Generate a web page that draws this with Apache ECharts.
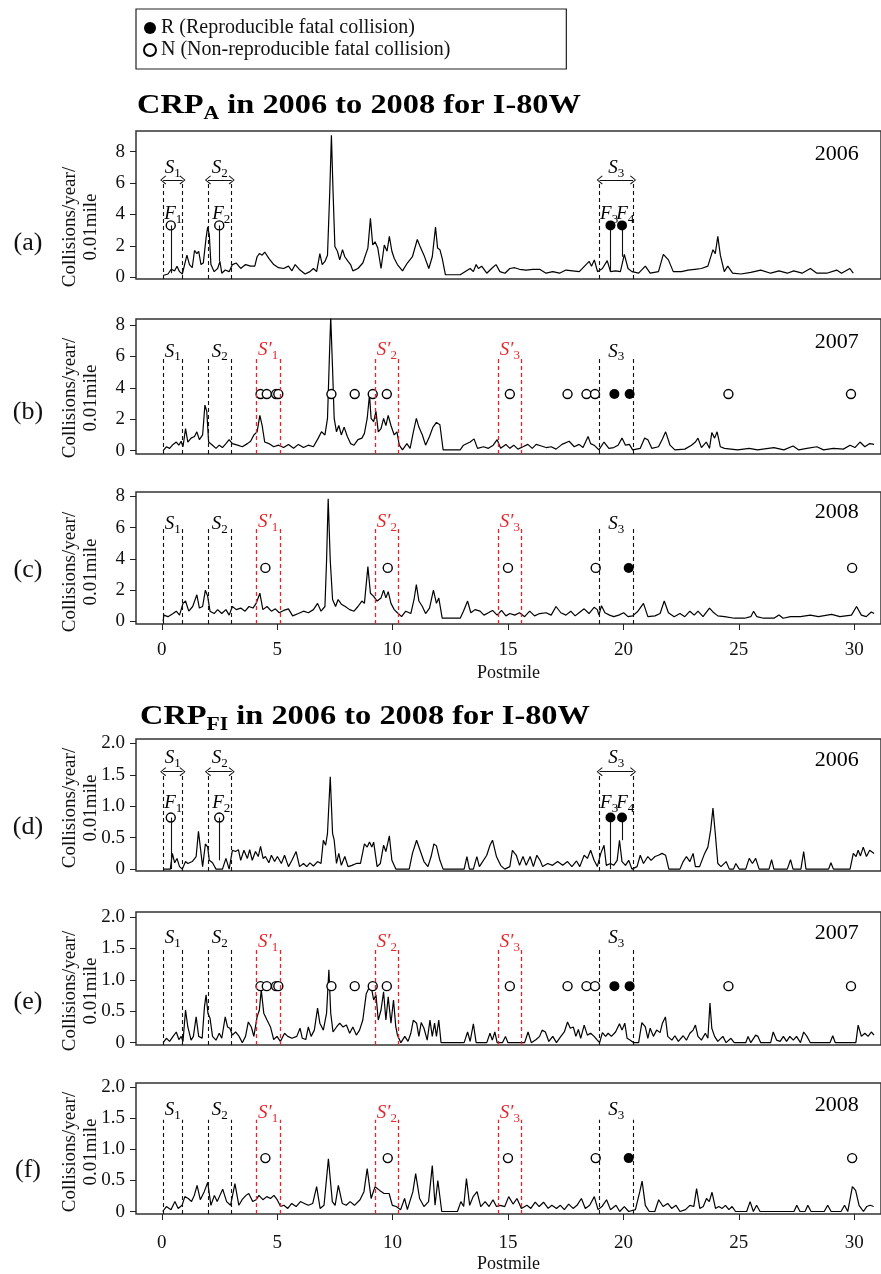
<!DOCTYPE html>
<html>
<head>
<meta charset="utf-8">
<script src="https://cdn.jsdelivr.net/npm/echarts@6/dist/echarts.min.js"></script>
<style>
html, body { margin: 0; background: #fff; }
#main { width: 881px; height: 1274px; }
</style>
</head>
<body>
<div id="main"></div>
<script>
var chart = echarts.init(document.getElementById('main'));
var FONT = 'Liberation Serif';
var RED = '#e3262b';

// ticks
var postmileTicks = [0, 5, 10, 15, 20, 25, 30];
var ticksA = [0, 2, 4, 6, 8];
var ticksFI = [0, 0.5, 1, 1.5, 2];

// segments (postmile)
var segS = [[0.06, 0.9], [2.0, 3.03], [18.97, 20.42]];
var segSPrime = [[4.1, 5.12], [9.26, 10.24], [14.58, 15.58]];

// fatal collisions (postmile)
var fatalN2006 = [0.39, 2.49];
var fatalR2006 = [19.44, 19.94];
var fatalN2007 = [4.28, 4.55, 4.95, 5.05, 7.35, 8.36, 9.14, 9.75, 15.08, 17.58, 18.4, 18.77, 24.55, 29.86];
var fatalR2007 = [19.61, 20.27];
var fatalN2008 = [4.49, 9.79, 15.0, 18.8, 29.91];
var fatalR2008 = [20.23];
var fLabelX = [0.5, 2.58, 19.38, 20.08];
var stemBaseA2006 = [0.25, 1.0, 0.35, 1.3];
var stemBaseFI2006 = [0, 0.14, 0, 0.46];

// CRP_A  [postmile, collisions/year/0.01mile]
var crpA2006 = [[0.06,0.1],[0.27,0.2],[0.41,0.5],[0.56,0.4],[0.66,0.7],[0.77,0.35],[0.89,0.2],[0.99,0.8],[1.09,1.4],[1.2,0.8],[1.32,0.6],[1.42,1.7],[1.52,1.5],[1.6,1.65],[1.7,0.8],[1.8,0.9],[1.92,2.5],[1.99,3.2],[2.06,2.7],[2.13,0.8],[2.27,0.35],[2.42,0.55],[2.52,1.0],[2.6,0.25],[2.75,0.45],[2.92,0.35],[3.06,0.8],[3.23,0.9],[3.42,0.55],[3.63,0.8],[3.85,0.7],[4.03,0.7],[4.13,1.3],[4.23,1.5],[4.35,1.4],[4.46,1.6],[4.64,1.2],[4.85,0.8],[5.06,0.6],[5.28,0.55],[5.49,0.7],[5.64,0.4],[5.78,0.8],[5.99,0.45],[6.21,0.2],[6.42,0.35],[6.57,0.55],[6.71,0.35],[6.85,1.5],[6.95,0.8],[7.07,1.0],[7.18,1.4],[7.28,5.5],[7.35,9.05],[7.42,5.5],[7.5,1.95],[7.61,1.65],[7.71,1.1],[7.83,1.75],[7.93,1.3],[8.07,1.0],[8.18,0.8],[8.28,0.4],[8.5,0.55],[8.71,0.9],[8.93,1.85],[9.04,3.75],[9.14,2.05],[9.24,2.25],[9.36,1.85],[9.5,0.55],[9.64,2.05],[9.76,1.65],[9.86,2.6],[9.97,1.65],[10.07,1.2],[10.21,0.8],[10.43,0.4],[10.64,0.9],[10.86,1.3],[11.07,2.4],[11.22,1.85],[11.36,1.4],[11.57,0.55],[11.72,1.3],[11.86,3.2],[11.95,1.85],[12.05,1.75],[12.15,1.2],[12.29,0.15],[12.93,0.15],[13.36,0.55],[13.5,0.35],[13.62,0.8],[13.72,0.55],[13.86,0.7],[14.08,0.25],[14.29,0.55],[14.48,0.8],[14.65,0.35],[14.87,0.25],[15.08,0.55],[15.29,0.6],[15.5,0.5],[15.79,0.45],[16.08,0.5],[16.37,0.5],[16.65,0.25],[16.94,0.35],[17.23,0.25],[17.51,0.45],[17.8,0.4],[18.09,0.35],[18.38,0.8],[18.52,1.0],[18.62,0.7],[18.74,1.1],[18.88,0.35],[19.09,0.55],[19.3,1.05],[19.44,0.35],[19.66,0.4],[19.87,0.35],[20.04,1.45],[20.2,0.55],[20.37,0.35],[20.66,0.25],[20.95,0.7],[21.16,0.25],[21.52,0.35],[21.73,1.45],[21.95,1.1],[22.16,0.35],[22.52,0.35],[22.8,0.45],[23.09,0.5],[23.38,0.55],[23.66,0.7],[23.88,1.75],[23.98,1.5],[24.09,2.6],[24.2,1.4],[24.37,0.35],[24.52,0.7],[24.73,0.25],[25.09,0.2],[25.52,0.3],[25.95,0.45],[26.38,0.25],[26.74,0.4],[27.1,0.25],[27.38,0.4],[27.74,0.25],[28.1,0.55],[28.38,0.25],[28.81,0.25],[29.24,0.45],[29.45,0.25],[29.81,0.55],[29.96,0.25]];
var crpA2007 = [[0.06,0],[0.2,0.25],[0.34,0.15],[0.49,0.4],[0.63,0.55],[0.74,0.35],[0.84,0.6],[0.92,0.25],[1.03,1.4],[1.13,0.55],[1.27,0.8],[1.42,0.9],[1.52,1.2],[1.63,0.7],[1.77,1.0],[1.87,2.9],[1.95,2.5],[2.03,0.55],[2.2,0.35],[2.35,0.15],[2.49,0.35],[2.63,0.2],[2.78,0.45],[2.92,0.7],[3.06,0.45],[3.28,0.35],[3.49,0.25],[3.71,0.45],[3.85,0.6],[3.99,1.0],[4.13,1.2],[4.25,2.25],[4.35,1.6],[4.46,0.55],[4.64,0.45],[4.85,0.25],[5.06,0.35],[5.28,0.2],[5.49,0.4],[5.71,0.15],[5.92,0.4],[6.14,0.2],[6.35,0.35],[6.57,0.25],[6.78,0.8],[6.92,1.2],[7.07,1.0],[7.18,2.05],[7.27,6.3],[7.32,8.5],[7.4,5.2],[7.47,2.05],[7.57,1.2],[7.67,1.6],[7.78,1.0],[7.9,1.5],[8.04,0.9],[8.18,0.45],[8.33,0.35],[8.5,0.7],[8.67,0.8],[8.78,1.1],[8.9,2.05],[9.0,3.55],[9.07,2.05],[9.18,1.85],[9.28,2.5],[9.38,1.2],[9.5,1.4],[9.61,2.05],[9.71,1.6],[9.81,2.25],[9.93,1.6],[10.07,1.0],[10.19,1.2],[10.29,0.35],[10.43,0.05],[10.62,0.45],[10.76,0.15],[10.9,1.2],[11.03,2.05],[11.14,1.5],[11.29,1.0],[11.43,0.35],[11.6,0.9],[11.75,1.5],[11.9,1.8],[12.05,1.65],[12.19,0.05],[12.93,0.05],[13.07,0.35],[13.36,0.55],[13.53,0.75],[13.68,0.15],[13.94,0.25],[14.15,0.15],[14.36,0.35],[14.53,0.7],[14.68,0.15],[14.91,0.4],[15.08,0.15],[15.25,0.35],[15.43,0.1],[15.65,0.25],[15.86,0.4],[16.05,0.15],[16.22,0.4],[16.44,0.3],[16.65,0.2],[16.87,0.25],[17.08,0.1],[17.34,0.4],[17.65,0.6],[17.87,0.25],[18.08,0.4],[18.25,0.2],[18.47,0.9],[18.58,0.45],[18.73,0.35],[18.94,0.05],[19.16,0.55],[19.37,0.15],[19.58,0.2],[19.77,0.35],[19.94,0.8],[20.09,0.35],[20.26,0.4],[20.4,0.05],[20.73,0.15],[20.92,0.8],[21.06,0.7],[21.23,0.15],[21.52,0.25],[21.69,0.75],[21.83,1.2],[22.02,0.35],[22.23,0.05],[22.66,0.1],[22.95,0.35],[23.12,0.55],[23.23,0.8],[23.38,0.2],[23.59,0.55],[23.73,0.15],[23.83,1.15],[23.95,0.8],[24.06,1.2],[24.2,0.25],[24.38,0.15],[24.66,0.1],[24.95,0.05],[25.45,0.15],[25.81,0.05],[26.52,0.2],[26.95,0.05],[27.35,0.3],[27.6,0.05],[27.95,0.15],[28.38,0.25],[28.67,0.05],[29.1,0.15],[29.53,0.1],[29.82,0.35],[30.03,0.2],[30.25,0.55],[30.46,0.25],[30.67,0.45],[30.86,0.4]];
var crpA2008 = [[0.06,0],[0.09,0.4],[0.27,0.3],[0.49,0.5],[0.63,0.65],[0.77,0.4],[0.92,1.15],[1.03,1.3],[1.17,0.65],[1.34,0.95],[1.52,1.7],[1.63,0.85],[1.77,0.95],[1.89,2.0],[1.99,1.6],[2.09,0.65],[2.27,0.5],[2.42,0.75],[2.6,0.5],[2.78,0.75],[2.92,0.4],[3.06,0.95],[3.23,0.75],[3.42,0.85],[3.61,0.65],[3.78,0.95],[3.95,0.85],[4.09,1.15],[4.25,1.8],[4.38,0.75],[4.56,0.95],[4.75,0.65],[4.92,0.8],[5.09,0.55],[5.28,0.7],[5.49,0.8],[5.67,0.35],[5.92,0.5],[6.14,0.65],[6.35,0.55],[6.57,0.75],[6.75,1.15],[6.9,0.65],[7.07,0.95],[7.14,3.9],[7.21,7.85],[7.3,3.9],[7.4,1.4],[7.53,0.95],[7.64,1.4],[7.78,1.1],[7.95,0.95],[8.14,0.75],[8.33,0.65],[8.5,0.95],[8.67,1.3],[8.78,1.15],[8.93,3.5],[9.04,1.8],[9.18,1.6],[9.33,1.3],[9.5,1.5],[9.61,2.0],[9.71,1.5],[9.81,1.9],[9.93,1.15],[10.07,0.75],[10.21,0.55],[10.39,0.3],[10.57,0.65],[10.79,0.5],[10.93,1.4],[11.03,2.35],[11.14,1.3],[11.29,0.95],[11.43,0.5],[11.6,0.85],[11.77,2.0],[11.9,1.15],[12.0,1.5],[12.15,0.2],[12.93,0.2],[13.07,0.65],[13.25,1.3],[13.39,0.55],[13.57,0.75],[13.79,0.65],[13.96,0.4],[14.15,0.55],[14.33,0.7],[14.53,0.4],[14.72,0.7],[14.91,0.35],[15.08,0.5],[15.29,0.4],[15.5,0.55],[15.72,0.3],[15.94,0.65],[16.15,0.35],[16.37,0.5],[16.65,0.55],[16.87,0.4],[17.08,0.95],[17.29,0.55],[17.51,0.4],[17.72,0.65],[17.91,0.35],[18.08,0.55],[18.3,0.8],[18.51,0.5],[18.73,0.9],[18.87,0.75],[18.94,0.4],[19.05,1.0],[19.2,0.55],[19.4,0.4],[19.58,0.3],[19.8,0.4],[20.01,0.55],[20.2,0.3],[20.4,0.35],[20.63,0.65],[20.87,1.15],[21.06,0.3],[21.37,0.35],[21.59,0.5],[21.77,1.3],[21.95,0.55],[22.2,0.3],[22.45,0.5],[22.66,0.3],[22.88,0.65],[23.07,0.4],[23.23,0.65],[23.45,0.3],[23.73,0.85],[23.88,0.6],[24.09,0.35],[24.38,0.3],[24.81,0.2],[25.25,0.2],[25.52,0.3],[25.64,0.65],[25.78,0.3],[26.07,0.2],[26.52,0.2],[26.74,0.4],[26.92,0.2],[27.24,0.3],[27.67,0.3],[28.1,0.4],[28.45,0.3],[29.02,0.45],[29.38,0.3],[29.88,0.4],[30.1,0.95],[30.31,0.4],[30.52,0.3],[30.74,0.6],[30.86,0.5]];

// CRP_FI
var crpFI2006 = [[0.06,0],[0.37,0],[0.46,0.25],[0.56,0.1],[0.66,0.17],[0.77,0.04],[0.89,0],[1.03,0.12],[1.13,0.09],[1.32,0.12],[1.49,0.2],[1.59,0.6],[1.67,0.35],[1.77,0.04],[1.89,0.4],[1.99,0.35],[2.06,0.14],[2.2,0.1],[2.35,0],[2.63,0],[2.78,0.17],[2.92,0],[3.06,0.3],[3.2,0.28],[3.32,0.31],[3.42,0.14],[3.56,0.3],[3.71,0.17],[3.81,0.31],[3.92,0.14],[4.06,0.28],[4.18,0.2],[4.28,0.36],[4.39,0.17],[4.49,0.2],[4.64,0.1],[4.75,0.22],[4.89,0.12],[5.01,0.2],[5.18,0.09],[5.32,0.22],[5.49,0.04],[5.64,0.14],[5.82,0.28],[5.97,0.04],[6.14,0.09],[6.28,0.04],[6.42,0.1],[6.57,0.05],[6.75,0.12],[6.9,0.09],[7.0,0.46],[7.1,0.38],[7.18,0.57],[7.3,1.47],[7.4,0.57],[7.47,0.46],[7.57,0.09],[7.67,0.25],[7.78,0.06],[7.93,0.2],[8.07,0.04],[8.24,0.06],[8.43,0.09],[8.61,0.09],[8.78,0.4],[8.9,0.35],[9.0,0.43],[9.1,0.35],[9.18,0.43],[9.33,0.04],[9.47,0.09],[9.61,0.38],[9.71,0.28],[9.86,0.53],[9.97,0.14],[10.14,0],[10.72,0],[10.86,0.25],[11.04,0.46],[11.19,0.3],[11.36,0.12],[11.53,0.04],[11.67,0.2],[11.79,0.4],[11.9,0.37],[12.05,0.14],[12.19,0],[13.1,0],[13.22,0.2],[13.33,0],[13.5,0],[13.65,0.2],[13.76,0.04],[14.08,0.22],[14.22,0.38],[14.33,0.46],[14.5,0.2],[14.68,0.06],[14.86,0],[15.08,0.04],[15.19,0.3],[15.36,0.22],[15.5,0.06],[15.65,0.2],[15.79,0.06],[15.96,0.2],[16.1,0.04],[16.25,0.22],[16.39,0.14],[16.5,0.04],[16.72,0.09],[16.93,0.06],[17.15,0.12],[17.37,0.06],[17.58,0.12],[17.77,0.04],[17.97,0.13],[18.11,0.04],[18.3,0.22],[18.44,0.17],[18.58,0.3],[18.73,0.14],[18.87,0.04],[19.02,0.25],[19.16,0.38],[19.26,0.06],[19.44,0.09],[19.58,0.06],[19.73,0.14],[19.83,0.46],[19.94,0.12],[20.09,0.06],[20.23,0.14],[20.37,0],[20.59,0.04],[20.73,0.22],[20.87,0.09],[21.06,0.2],[21.2,0.14],[21.37,0.2],[21.52,0.22],[21.67,0.25],[21.83,0.22],[21.97,0],[22.45,0],[22.59,0.12],[22.73,0.2],[22.88,0.12],[23.02,0.25],[23.12,0.04],[23.3,0.04],[23.52,0.25],[23.66,0.35],[23.78,0.62],[23.88,0.97],[23.98,0.57],[24.09,0.09],[24.23,0.04],[24.45,0.12],[24.59,0],[24.77,0],[24.87,0.09],[25.02,0],[25.3,0],[25.45,0.17],[25.59,0.09],[25.73,0.17],[25.88,0],[26.31,0],[26.42,0.15],[26.52,0],[27.1,0],[27.24,0.15],[27.35,0],[27.69,0],[27.81,0.28],[27.91,0],[28.89,0],[28.99,0.1],[29.1,0],[29.82,0],[29.96,0.25],[30.08,0.2],[30.17,0.3],[30.27,0.21],[30.39,0.35],[30.53,0.2],[30.67,0.3],[30.86,0.25]];
var crpFI2007 = [[0.06,0],[0.2,0.07],[0.34,0.02],[0.49,0.1],[0.63,0.17],[0.74,0.05],[0.84,0.1],[0.92,0.02],[1.03,0.52],[1.13,0.25],[1.27,0.04],[1.37,0.1],[1.49,0.41],[1.6,0.1],[1.75,0.07],[1.85,0.57],[1.92,0.76],[2.0,0.47],[2.09,0.39],[2.2,0.1],[2.35,0.04],[2.49,0.15],[2.6,0.07],[2.75,0.41],[2.85,0.25],[2.95,0.23],[3.06,0.12],[3.2,0.17],[3.35,0.1],[3.49,0],[3.63,0.1],[3.75,0.33],[3.88,0.25],[3.99,0.1],[4.13,0.41],[4.23,0.52],[4.31,0.84],[4.42,0.47],[4.56,0.36],[4.71,0.25],[4.85,0.05],[4.99,0.1],[5.14,0.02],[5.32,0.15],[5.46,0.1],[5.64,0.07],[5.85,0.1],[5.99,0.23],[6.09,0.07],[6.24,0.05],[6.35,0.25],[6.47,0.1],[6.61,0.2],[6.75,0.55],[6.85,0.31],[7.0,0.2],[7.14,0.47],[7.24,1.16],[7.32,0.47],[7.42,0.17],[7.57,0.25],[7.71,0.31],[7.85,0.25],[8.0,0.28],[8.14,0.15],[8.28,0.25],[8.43,0.12],[8.57,0.2],[8.71,0.36],[8.86,0.78],[9.0,0.89],[9.1,0.84],[9.18,0.68],[9.28,0.76],[9.38,0.36],[9.5,0.52],[9.61,0.81],[9.71,0.36],[9.81,0.73],[9.93,0.31],[10.04,0.68],[10.14,0.25],[10.21,0.12],[10.36,0],[10.53,0.1],[10.67,0.02],[10.79,0.15],[10.9,0.36],[11.04,0.31],[11.14,0.1],[11.24,0.32],[11.36,0.23],[11.5,0.04],[11.62,0.36],[11.72,0.1],[11.82,0.31],[11.9,0.1],[12.0,0.36],[12.1,0],[13.1,0],[13.25,0.17],[13.36,0.02],[13.5,0.3],[13.62,0],[14.08,0],[14.22,0.15],[14.32,0.04],[14.43,0.17],[14.53,0],[14.76,0],[14.89,0.1],[15.0,0],[15.72,0],[15.87,0.17],[16.01,0],[16.22,0.05],[16.37,0.1],[16.48,0.2],[16.62,0.17],[16.77,0.02],[16.94,0.1],[17.1,0],[17.29,0.1],[17.44,0.17],[17.58,0.33],[17.7,0.23],[17.83,0.25],[17.94,0.1],[18.05,0.21],[18.15,0.07],[18.3,0.28],[18.44,0.12],[18.58,0.15],[18.73,0.1],[18.87,0.04],[18.97,0],[19.09,0.16],[19.23,0.1],[19.34,0.15],[19.48,0.1],[19.66,0.17],[19.83,0.3],[19.94,0.2],[20.06,0.31],[20.16,0.07],[20.3,0.04],[20.45,0],[20.66,0],[20.8,0.32],[20.95,0.25],[21.06,0.07],[21.16,0.23],[21.3,0.1],[21.44,0.2],[21.59,0.16],[21.69,0.31],[21.82,0.41],[21.92,0.1],[22.1,0.04],[22.23,0.11],[22.38,0.02],[22.59,0.11],[22.73,0.04],[22.88,0.15],[23.02,0.2],[23.12,0.28],[23.23,0.1],[23.38,0.04],[23.55,0.15],[23.66,0.07],[23.75,0.63],[23.83,0.23],[23.95,0.1],[24.09,0.02],[24.31,0.1],[24.45,0],[24.66,0.07],[24.8,0],[25.3,0],[25.4,0.1],[25.52,0],[25.73,0.12],[25.83,0.1],[25.95,0],[26.38,0],[26.49,0.17],[26.64,0.04],[26.79,0.02],[26.93,0.1],[27.07,0.02],[27.21,0.1],[27.36,0.04],[27.5,0.1],[27.67,0],[27.81,0.17],[27.95,0.1],[28.1,0],[28.95,0],[29.07,0.11],[29.18,0],[30.07,0],[30.17,0.28],[30.31,0.1],[30.46,0.15],[30.6,0.1],[30.74,0.17],[30.86,0.12]];
var crpFI2008 = [[0.04,0],[0.2,0.08],[0.4,0.03],[0.57,0.16],[0.71,0.05],[0.88,0.1],[1.0,0.24],[1.15,0.21],[1.29,0.16],[1.41,0.26],[1.53,0.42],[1.67,0.19],[1.84,0.32],[1.99,0.47],[2.13,0.1],[2.28,0.26],[2.4,0.16],[2.52,0.26],[2.64,0.36],[2.81,0.16],[2.98,0.1],[3.17,0.45],[3.34,0.1],[3.48,0.19],[3.65,0.26],[3.77,0.29],[3.94,0.16],[4.09,0.19],[4.21,0.26],[4.38,0.19],[4.55,0.24],[4.71,0.21],[4.86,0.26],[5.0,0.19],[5.15,0.08],[5.29,0.1],[5.46,0.05],[5.63,0.13],[5.82,0.08],[6.01,0.16],[6.18,0.13],[6.35,0.1],[6.54,0.13],[6.71,0.4],[6.86,0.05],[7.03,0.1],[7.22,0.85],[7.39,0.16],[7.51,0.1],[7.65,0.42],[7.82,0.13],[7.99,0.1],[8.16,0.16],[8.35,0.1],[8.59,0.19],[8.76,0.32],[8.9,0.69],[9.07,0.21],[9.24,0.4],[9.44,0.34],[9.63,0.29],[9.85,0.29],[9.99,0.1],[10.16,0.08],[10.35,0.03],[10.52,0.21],[10.64,0.03],[10.88,0.32],[11.0,0.61],[11.17,0.21],[11.36,0.08],[11.56,0.16],[11.72,0.74],[11.84,0.1],[11.96,0.5],[12.13,0],[12.81,0],[12.96,0.16],[13.08,0.08],[13.2,0.53],[13.34,0.1],[13.49,0.24],[13.66,0.32],[13.82,0.08],[14.01,0.16],[14.18,0.08],[14.35,0.19],[14.5,0.08],[14.66,0.1],[14.86,0.08],[15.03,0.24],[15.22,0.12],[15.39,0.21],[15.58,0.05],[15.82,0.1],[15.99,0.05],[16.18,0.15],[16.35,0.08],[16.54,0.15],[16.74,0.05],[16.9,0.1],[17.1,0.05],[17.27,0.1],[17.44,0.03],[17.63,0.12],[17.82,0.05],[17.99,0.1],[18.18,0.21],[18.35,0.05],[18.54,0.1],[18.74,0.24],[18.9,0.03],[19.07,0.08],[19.27,0.19],[19.44,0.03],[19.68,0.1],[19.84,0],[20.04,0.08],[20.23,0],[20.52,0.03],[20.71,0.32],[20.81,0.49],[20.95,0.1],[21.12,0],[21.36,0],[21.53,0.19],[21.72,0.08],[21.92,0.13],[22.09,0.05],[22.28,0.1],[22.45,0],[22.69,0.03],[22.88,0.1],[23.05,0.08],[23.17,0.37],[23.31,0.05],[23.46,0.08],[23.6,0.21],[23.72,0.16],[23.84,0.31],[23.99,0.05],[24.13,0.08],[24.28,0.05],[24.42,0.1],[24.57,0.03],[24.71,0.08],[24.86,0],[25.34,0],[25.49,0.16],[25.63,0],[25.77,0.1],[25.92,0],[27.39,0],[27.51,0.1],[27.65,0],[27.87,0],[27.99,0.1],[28.13,0],[28.7,0],[28.85,0.1],[29.0,0],[29.43,0],[29.58,0.1],[29.72,0],[29.8,0],[29.92,0.4],[30.06,0.34],[30.21,0.1],[30.4,0],[30.54,0.08],[30.69,0.1],[30.84,0.08]];

var NAME_R = 'R (Reproducible fatal collision)';
var NAME_N = 'N (Non-reproducible fatal collision)';
var ARROW = 'path://M5,0 L10,8 L9,9 L5,2 L1,9 L0,8 Z';

var panels = [
  {tag: '(a)', year: '2006', data: crpA2006, top: 131, height: 148, min: -0.12, max: 9.32, ticks: ticksA,
   N: fatalN2006, R: fatalR2006, markY: 3.3, stems: stemBaseA2006, fY: 4.0, arrowY: 6.2, lineTop: 6.1,
   sY: 6.95, yearY: 7.85, tagY: 243, nameY: 227},
  {tag: '(b)', year: '2007', data: crpA2007, top: 319, height: 135, min: -0.21, max: 8.37, ticks: ticksA,
   N: fatalN2007, R: fatalR2007, markY: 3.6, primes: true, lineTop: 5.95,
   sY: 6.3, spY: 6.4, yearY: 6.9, tagY: 412, nameY: 398},
  {tag: '(c)', year: '2008', data: crpA2008, top: 492, height: 132, min: -0.17, max: 8.28, ticks: ticksA,
   N: fatalN2008, R: fatalR2008, markY: 3.42, primes: true, lineTop: 5.95,
   xLabels: true, xMargin: 17, xNameGap: 40,
   sY: 6.25, spY: 6.35, yearY: 7.0, tagY: 570, nameY: 572},
  {tag: '(d)', year: '2006', data: crpFI2006, top: 739, height: 132, min: -0.03, max: 2.07, ticks: ticksFI,
   N: fatalN2006, R: fatalR2006, markY: 0.82, stems: stemBaseFI2006, fY: 1.05, arrowY: 1.55, lineTop: 1.5,
   sY: 1.76, yearY: 1.74, tagY: 827, nameY: 808},
  {tag: '(e)', year: '2007', data: crpFI2007, top: 912, height: 133, min: -0.037, max: 2.08, ticks: ticksFI,
   N: fatalN2007, R: fatalR2007, markY: 0.9, primes: true, lineTop: 1.48,
   sY: 1.67, spY: 1.6, yearY: 1.74, tagY: 1002, nameY: 991},
  {tag: '(f)', year: '2008', data: crpFI2008, top: 1083, height: 133, min: -0.04, max: 2.07, ticks: ticksFI,
   N: fatalN2008, R: fatalR2008, markY: 0.86, primes: true, lineTop: 1.48,
   xLabels: true, xMargin: 20, xNameGap: 41,
   sY: 1.64, spY: 1.59, yearY: 1.72, tagY: 1170, nameY: 1152}
];

var labelRich = {
  m: {fontFamily: FONT, fontStyle: 'italic', fontSize: 19, color: '#000'},
  s: {fontFamily: FONT, fontSize: 13, color: '#000', padding: [11, 0, 0, 0]},
  rm: {fontFamily: FONT, fontStyle: 'italic', fontSize: 19, color: RED},
  rs: {fontFamily: FONT, fontSize: 13, color: RED, padding: [11, 0, 0, 0]},
  y: {fontFamily: FONT, fontSize: 22, color: '#000'}
};

function mid(s) { return (s[0] + s[1]) / 2; }

function markLines(p) {
  var d = [];
  segS.forEach(function (s) {
    s.forEach(function (x) {
      d.push([{coord: [x, p.min], lineStyle: {color: '#111', type: [4, 3], width: 1.1}}, {coord: [x, p.lineTop]}]);
    });
  });
  if (p.primes) {
    segSPrime.forEach(function (s) {
      s.forEach(function (x) {
        d.push([{coord: [x, p.min], lineStyle: {color: RED, type: [4, 3], width: 1.3}}, {coord: [x, p.lineTop]}]);
      });
    });
  }
  if (p.arrowY) {
    segS.forEach(function (s) {
      d.push([
        {coord: [s[0], p.arrowY], symbol: ARROW, symbolSize: [9, 6], lineStyle: {color: '#111', type: 'solid', width: 1}},
        {coord: [s[1], p.arrowY], symbol: ARROW, symbolSize: [9, 6]}
      ]);
    });
  }
  if (p.stems) {
    p.N.concat(p.R).forEach(function (x, k) {
      d.push([{coord: [x, p.stems[k]], lineStyle: {color: '#111', type: 'solid', width: 1.1}}, {coord: [x, p.markY]}]);
    });
  }
  return d;
}

function labels(p) {
  var d = [];
  segS.forEach(function (s, j) {
    d.push({value: [mid(s), p.sY], label: {formatter: '{m|S}{s|' + (j + 1) + '}'}});
  });
  if (p.primes) {
    segSPrime.forEach(function (s, j) {
      d.push({value: [mid(s), p.spY], label: {formatter: '{rm|S\u2032}{rs|' + (j + 1) + '}'}});
    });
  }
  if (p.fY) {
    fLabelX.forEach(function (x, j) {
      d.push({value: [x, p.fY], label: {formatter: '{m|F}{s|' + (j + 1) + '}'}});
    });
  }
  d.push({value: [30.2, p.yearY], label: {formatter: '{y|' + p.year + '}', align: 'right'}});
  return d;
}

var grids = [], xAxes = [], yAxes = [], series = [], graphics = [];

panels.forEach(function (p, i) {
  grids.push({left: 136, top: p.top, width: 752, height: p.height, show: true,
    borderColor: '#333', borderWidth: 1.5, backgroundColor: 'transparent'});
  xAxes.push({
    gridIndex: i, type: 'value', min: -1.116, max: 31.16,
    splitLine: {show: false}, axisLine: {show: false, onZero: false},
    axisTick: {show: !!p.xLabels, length: 6, customValues: postmileTicks, lineStyle: {color: '#222'}},
    axisLabel: {show: !!p.xLabels, customValues: postmileTicks, margin: p.xMargin || 14,
      fontFamily: FONT, fontSize: 19, color: '#111'},
    name: p.xLabels ? 'Postmile' : '', nameLocation: 'middle', nameGap: p.xNameGap || 40,
    nameTextStyle: {fontFamily: FONT, fontSize: 18, color: '#111'}
  });
  yAxes.push({
    gridIndex: i, type: 'value', min: p.min, max: p.max,
    splitLine: {show: false}, axisLine: {show: false, onZero: false},
    axisTick: {show: true, length: 6, customValues: p.ticks, lineStyle: {color: '#222'}},
    axisLabel: {customValues: p.ticks, margin: 11, fontFamily: FONT, fontSize: 19, color: '#111',
      formatter: function (v) { return v === 0 || v >= 2 && p.ticks === ticksA ? String(v) : v.toFixed(1); }}
  });
  series.push({
    type: 'line', xAxisIndex: i, yAxisIndex: i, data: p.data, symbol: 'none', silent: true,
    lineStyle: {color: '#000', width: 1.2}, z: 2,
    markLine: {silent: true, symbol: 'none', label: {show: false}, animation: false, data: markLines(p)}
  });
  series.push({
    type: 'scatter', name: NAME_N, xAxisIndex: i, yAxisIndex: i, symbolSize: 9, z: 4,
    itemStyle: {color: '#fff', borderColor: '#000', borderWidth: 1.4, opacity: 1},
    data: p.N.map(function (x) { return [x, p.markY]; })
  });
  series.push({
    type: 'scatter', name: NAME_R, xAxisIndex: i, yAxisIndex: i, symbolSize: 10, z: 5,
    itemStyle: {color: '#000', opacity: 1},
    data: p.R.map(function (x) { return [x, p.markY]; })
  });
  series.push({
    type: 'scatter', xAxisIndex: i, yAxisIndex: i, symbolSize: 0, silent: true, z: 6,
    itemStyle: {opacity: 1},
    label: {show: true, position: 'inside', rich: labelRich},
    data: labels(p)
  });
  graphics.push({type: 'text', x: 28, y: p.tagY,
    style: {text: p.tag, fontFamily: FONT, fontSize: 26, fill: '#111',
      textAlign: 'center', textVerticalAlign: 'middle', align: 'center', verticalAlign: 'middle'}});
  graphics.push({type: 'text', x: 81, y: p.nameY, rotation: Math.PI / 2,
    style: {text: 'Collisions/year/\n0.01mile', fontFamily: FONT, fontSize: 19, lineHeight: 21, fill: '#111',
      textAlign: 'center', textVerticalAlign: 'middle', align: 'center', verticalAlign: 'middle'}});
});

var titleRich = {
  t: {fontFamily: FONT, fontWeight: 'bold', fontSize: 27, color: '#000'},
  ts: {fontFamily: FONT, fontWeight: 'bold', fontSize: 18, color: '#000', padding: [16, 0, 0, 0]}
};
graphics.push({type: 'text', x: 137, y: 106, scaleX: 1.2,
  style: {text: '{t|CRP}{ts|A}{t| in 2006 to 2008 for I-80W}', rich: titleRich,
    textVerticalAlign: 'middle', verticalAlign: 'middle'}});
graphics.push({type: 'text', x: 140, y: 717, scaleX: 1.2,
  style: {text: '{t|CRP}{ts|FI}{t| in 2006 to 2008 for I-80W}', rich: titleRich,
    textVerticalAlign: 'middle', verticalAlign: 'middle'}});

var option = {
  backgroundColor: '#fff',
  animation: false,
  legend: {
    data: [NAME_R, NAME_N], orient: 'vertical', left: 136, top: 9,
    padding: [9, 116, 9, 7], itemGap: 2, itemWidth: 12, itemHeight: 12,
    borderColor: '#222', borderWidth: 1.2, selectedMode: false,
    textStyle: {fontFamily: FONT, fontSize: 20, color: '#111'}
  },
  grid: grids,
  xAxis: xAxes,
  yAxis: yAxes,
  series: series,
  graphic: graphics
};

chart.setOption(option);
window.addEventListener('resize', function () {
  chart.resize();
});
</script>
</body>
</html>
